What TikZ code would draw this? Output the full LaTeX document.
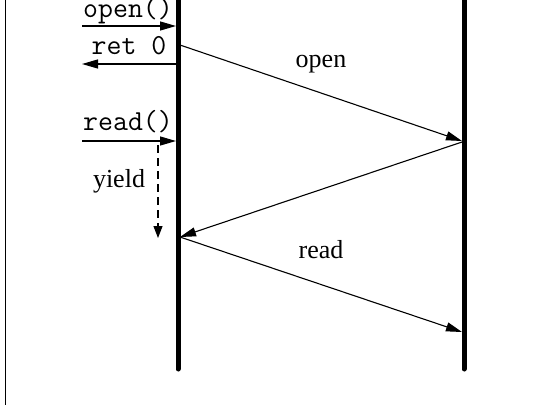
\documentclass[tikz,border=0pt]{standalone}
\usepackage{fontspec}
\setmainfont{Liberation Serif}
\usetikzlibrary{arrows.meta}
\begin{document}
\begin{tikzpicture}[x=1pt,y=-1pt,
  lifeline/.style={line width=5pt,line cap=round},
  msg/.style={line width=1.1pt,-{Triangle[length=16pt,width=9pt]}},
  call/.style={line width=1.3pt,-{Triangle[length=16pt,width=9pt]}},
  waitline/.style={line width=1.1pt,dash pattern=on 8pt off 5pt,-{Triangle[length=12pt,width=9pt]}},
  lbl/.style={font=\fontsize{26}{30}\selectfont,inner sep=0pt,anchor=base},
  codelbl/.style={font=\fontsize{29}{32}\ttfamily,inner sep=0pt,anchor=base}]
\useasboundingbox (0,0) rectangle (538,405);

% frame edge on the left
\draw[line width=1.3pt] (5.5,0) -- (5.5,405);

% lifelines
\coordinate (ltop) at (178,-5);
\coordinate (lbot) at (178,369);
\coordinate (rtop) at (464,-5);
\coordinate (rbot) at (464,369);
\draw[lifeline] (ltop) -- (lbot);
\draw[lifeline] (rtop) -- (rbot);

% events on the left lifeline
\coordinate (opencallsrc) at (82,26);
\coordinate (opencall) at (176,26);
\coordinate (retsrc) at (176,64);
\coordinate (retdst) at (82,64);
\coordinate (readcallsrc) at (82,141);
\coordinate (readcall) at (176,141);
\coordinate (yieldsrc) at (158,145);
\coordinate (yielddst) at (158,238);

\coordinate (opensend) at (180,45);
\coordinate (openrecv) at (462,141);
\coordinate (replysrc) at (462,142);
\coordinate (replydst) at (180,237);
\coordinate (readsend) at (180,237);
\coordinate (readrecv) at (462,332);

% system-call arrows
\draw[call] (opencallsrc) -- (opencall);
\node[codelbl] (openlbl) at (128,17) {open()};
\draw[call] (retsrc) -- (retdst);
\node[codelbl] (retlbl) at (129,54) {ret 0};
\draw[call] (readcallsrc) -- (readcall);
\node[codelbl] (readlbl) at (128,130) {read()};
\draw[waitline] (yieldsrc) -- (yielddst);
\node[lbl] (yieldlbl) at (119,187) {yield};

% messages between the lifelines
\draw[msg] (opensend) -- (openrecv);
\node[lbl] (openmsg) at (321,67) {open};
\draw[msg] (replysrc) -- (replydst);
\draw[msg] (readsend) -- (readrecv);
\node[lbl] (readmsg) at (321,258) {read};
\end{tikzpicture}
\end{document}
